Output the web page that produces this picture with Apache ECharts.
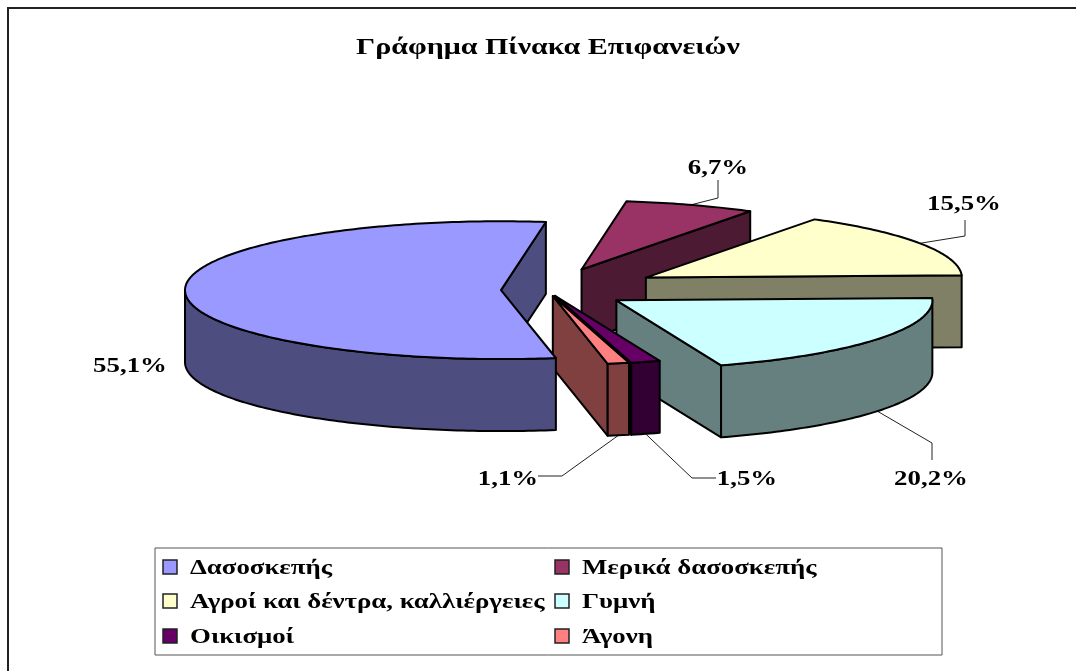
<!DOCTYPE html>
<html>
<head>
<meta charset="utf-8">
<script src="https://cdn.jsdelivr.net/npm/echarts@6/dist/echarts.min.js"></script>
<style>
html, body { margin: 0; padding: 0; background: #fff; }
#chart { width: 1076px; height: 671px; }
</style>
</head>
<body>
<div id="chart"></div>
<script>
var titleText = 'Γράφημα Πίνακα Επιφανειών';
var categories = ['Δασοσκεπής', 'Μερικά δασοσκεπής', 'Αγροί και δέντρα, καλλιέργειες', 'Γυμνή', 'Οικισμοί', 'Άγονη'];
var shares = [55.1, 6.7, 15.5, 20.2, 1.5, 1.1];
var shareLabels = ['55,1%', '6,7%', '15,5%', '20,2%', '1,5%', '1,1%'];

// colours per slice
var topColors = ['#9999ff', '#993366', '#ffffcc', '#ccffff', '#660066', '#ff8080'];
var sideColors = ['#4d4d80', '#4d1a33', '#808066', '#668080', '#330033', '#804040'];

// fake 3d pie geometry
var CX = 547, CY = 290, R = 316, TILT = 0.218, DEPTH = 72, START = 170;
var explode = [46, 100, 114, 84, 28, 28];
var drawOrder = [1, 2, 3, 4, 5, 0];

// label centre, leader elbow points (empty = no leader)
var labelPos = [[130, 366], [718, 168], [964, 204], [931, 479], [747, 479], [508, 479]];
var leaders = [
    [],
    [[718, 198], [718, 180]],
    [[965, 236], [965, 220]],
    [[932, 443], [932, 460]],
    [[692, 478], [716, 478]],
    [[562, 476], [538, 476]]
];

var STRETCH = 1.22;
var TITLE_STRETCH = 1.25;
var FONT = 'bold 22px "Liberation Serif"';
var TITLE_FONT = 'bold 24px "Liberation Serif"';

var total = shares.reduce(function (a, b) { return a + b; }, 0);
var slices = [];
var cur = START;
shares.forEach(function (v) {
    var span = v / total * 360;
    slices.push({ from: cur, to: cur + span, mid: cur + span / 2 });
    cur += span;
});

function rad(d) { return d * Math.PI / 180; }

function apexOf(i) {
    var m = rad(slices[i].mid);
    return [CX + explode[i] * Math.sin(m), CY - explode[i] * TILT * Math.cos(m)];
}

function rimPoint(apex, deg, drop) {
    return [apex[0] + R * Math.sin(rad(deg)), apex[1] - R * TILT * Math.cos(rad(deg)) + (drop || 0)];
}

function arcPoints(apex, from, to, drop) {
    var pts = [];
    var n = Math.max(2, Math.ceil(Math.abs(to - from)));
    for (var k = 0; k <= n; k++) {
        pts.push(rimPoint(apex, from + (to - from) * k / n, drop));
    }
    return pts;
}

function face(points, fill) {
    return {
        type: 'polygon',
        shape: { points: points },
        style: { fill: fill, stroke: '#000', lineWidth: 2, lineJoin: 'round' }
    };
}

function renderSlice(i) {
    return function () {
        var s = slices[i];
        var apex = apexOf(i);
        var children = [];
        // cut face at the clockwise end
        var endTop = rimPoint(apex, s.to);
        children.push(face([apex, endTop, [endTop[0], endTop[1] + DEPTH], [apex[0], apex[1] + DEPTH]], sideColors[i]));
        // outer wall, only the part facing the viewer (90..270 degrees)
        [0, 360].forEach(function (off) {
            var a = Math.max(s.from, 90 + off), b = Math.min(s.to, 270 + off);
            if (b > a) {
                children.push(face(arcPoints(apex, a, b, 0).concat(arcPoints(apex, b, a, DEPTH)), sideColors[i]));
            }
        });
        // top
        children.push(face([apex].concat(arcPoints(apex, s.from, s.to, 0)), topColors[i]));
        return { type: 'group', children: children };
    };
}

var series = drawOrder.map(function (i) {
    return {
        type: 'custom',
        name: categories[i],
        coordinateSystem: 'none',
        silent: true,
        clip: false,
        data: [shares[i]],
        renderItem: renderSlice(i)
    };
});

function label(text, x, y, align, font, stretch) {
    return {
        type: 'text',
        x: x,
        y: y,
        scaleX: stretch || STRETCH,
        silent: true,
        style: { text: text, font: font || FONT, fill: '#000', textAlign: align || 'center', textVerticalAlign: 'middle' }
    };
}

var graphics = [];

// chart frame, only left and top edges fall inside the picture
graphics.push({
    type: 'polyline', silent: true,
    shape: { points: [[8, 671], [8, 8], [1076, 8]] },
    style: { stroke: '#222', lineWidth: 2, fill: null }
});

graphics.push(label(titleText, 548, 48, 'center', TITLE_FONT, TITLE_STRETCH));

// value labels and leaders
shareLabels.forEach(function (t, i) {
    graphics.push(label(t, labelPos[i][0], labelPos[i][1]));
    if (leaders[i].length) {
        var drop = Math.cos(rad(slices[i].mid)) < 0 ? DEPTH : 0;
        var anchor = rimPoint(apexOf(i), slices[i].mid, drop);
        graphics.push({
            type: 'polyline', silent: true,
            shape: { points: [anchor].concat(leaders[i]) },
            style: { stroke: '#222', lineWidth: 1, fill: null }
        });
    }
});

// legend box, two columns
graphics.push({
    type: 'rect', silent: true,
    shape: { x: 155, y: 548, width: 787, height: 107 },
    style: { fill: '#fff', stroke: '#555', lineWidth: 1 }
});
var legendCols = [163, 555];
var legendRows = [567, 601, 636];
categories.forEach(function (name, i) {
    var x = legendCols[i % 2], y = legendRows[Math.floor(i / 2)];
    graphics.push({
        type: 'rect', silent: true,
        shape: { x: x, y: y - 7, width: 14, height: 14 },
        style: { fill: topColors[i], stroke: '#222', lineWidth: 1.5 }
    });
    graphics.push(label(name, x + 27, y + 1, 'left'));
});

var myChart = echarts.init(document.getElementById('chart'), null, { renderer: 'canvas' });
myChart.setOption({
    animation: false,
    backgroundColor: '#fff',
    series: series,
    graphic: { elements: graphics }
});
</script>
</body>
</html>
